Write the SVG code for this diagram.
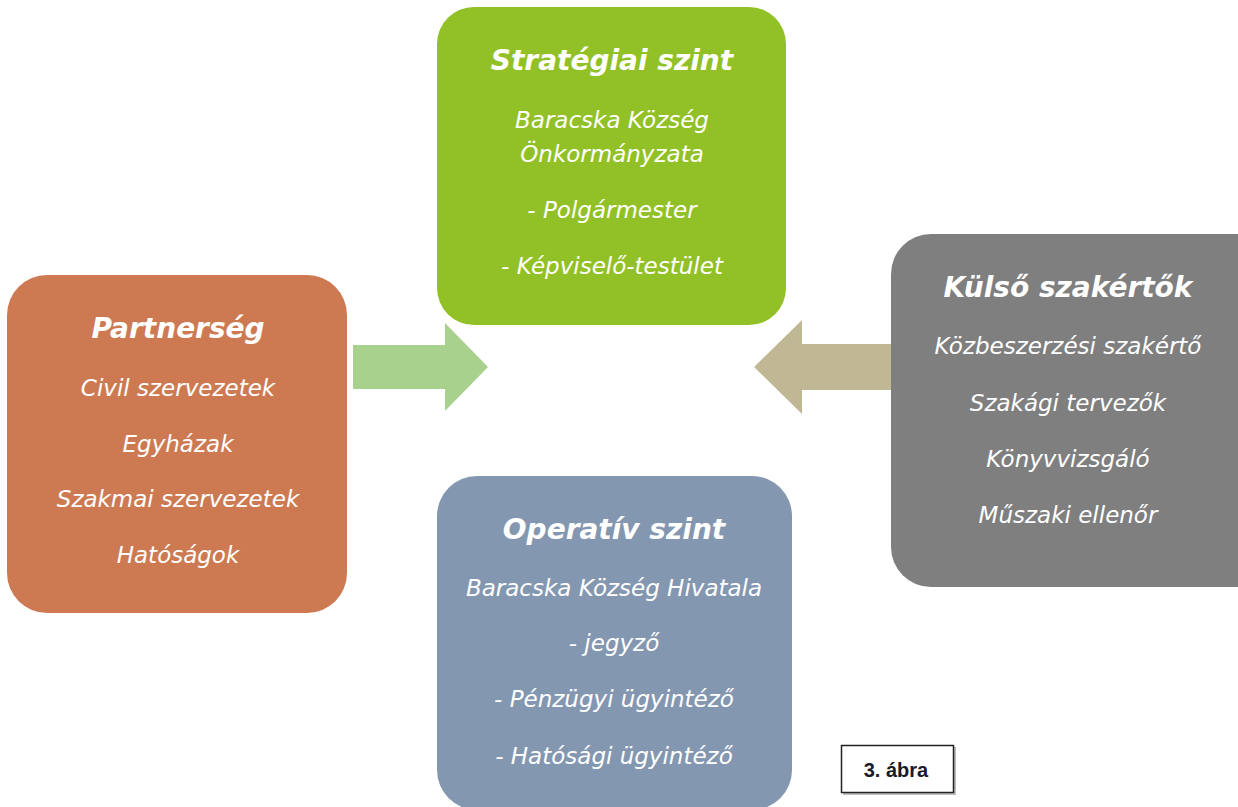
<svg xmlns="http://www.w3.org/2000/svg" width="1238" height="807" viewBox="0 0 1238 807">
<style>
.t{font-family:"DejaVu Sans","Liberation Sans",sans-serif;font-size:28px;font-weight:bold;font-style:italic;fill:#fff;text-anchor:middle}
.b{font-family:"DejaVu Sans","Liberation Sans",sans-serif;font-size:23px;font-style:italic;fill:#fff;text-anchor:middle}
</style>
<rect width="1238" height="807" fill="#fff"/>
<g id="connectors">
<polygon points="353,345 445,345 445,323 488,367 445,411 445,389 353,389" fill="#A9D18E"/>
<polygon points="892,344 802,344 802,320 754,367 802,414 802,390 892,390" fill="#C0B894"/>
</g>
<g id="strategiai">
<rect x="437" y="7" width="349" height="318" rx="37" fill="#92C127"/>
<text class="t" x="612" y="70">Stratégiai szint</text>
<text class="b" x="612" y="128">Baracska Község</text>
<text class="b" x="612" y="162">Önkormányzata</text>
<text class="b" x="612" y="218">- Polgármester</text>
<text class="b" x="612" y="274">- Képviselő-testület</text>
</g>
<g id="partnerseg">
<rect x="7" y="275" width="340" height="338" rx="40" fill="#CD7A53"/>
<text class="t" x="178" y="338">Partnerség</text>
<text class="b" x="178" y="396">Civil szervezetek</text>
<text class="b" x="178" y="452">Egyházak</text>
<text class="b" x="178" y="507">Szakmai szervezetek</text>
<text class="b" x="178" y="563">Hatóságok</text>
</g>
<g id="kulso">
<rect x="891" y="234" width="387" height="353" rx="40" fill="#7F7F7F"/>
<text class="t" x="1068" y="297">Külső szakértők</text>
<text class="b" x="1068" y="354">Közbeszerzési szakértő</text>
<text class="b" x="1068" y="411">Szakági tervezők</text>
<text class="b" x="1068" y="467">Könyvvizsgáló</text>
<text class="b" x="1068" y="523">Műszaki ellenőr</text>
</g>
<g id="operativ">
<rect x="437" y="476" width="355" height="334" rx="40" fill="#8497B0"/>
<text class="t" x="614" y="539">Operatív szint</text>
<text class="b" x="614" y="596">Baracska Község Hivatala</text>
<text class="b" x="614" y="651">- jegyző</text>
<text class="b" x="614" y="707">- Pénzügyi ügyintéző</text>
<text class="b" x="614" y="764">- Hatósági ügyintéző</text>
</g>
<g id="abra">
<rect x="843" y="747" width="113" height="48" fill="#bbb"/>
<rect x="841.5" y="745.5" width="112" height="47" fill="#fff" stroke="#222" stroke-width="1.5"/>
<text x="896" y="777" font-family="Liberation Sans, sans-serif" font-size="20" font-weight="600" fill="#1a1a2a" text-anchor="middle">3. ábra</text>
</g>
</svg>
